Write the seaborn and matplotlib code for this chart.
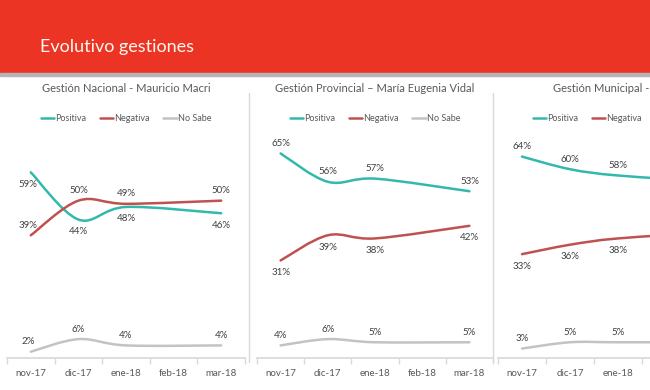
import numpy as np
import pandas as pd
import matplotlib
matplotlib.use("Agg")
import matplotlib.pyplot as plt
import seaborn as sns
from matplotlib.path import Path
from matplotlib.patches import PathPatch, Rectangle
from matplotlib.lines import Line2D

# categorias del eje (feb-18 sin medicion)
meses = ["nov-17", "dic-17", "ene-18", "feb-18", "mar-18"]
pos_medidas = [0, 1, 2, 4]
series = ["Positiva", "Negativa", "No Sabe"]

titulos = ["Gestión Nacional - Mauricio Macri",
           "Gestión Provincial – María Eugenia Vidal",
           "Gestión Municipal - Intendente"]

nacional_pos = [59, 44, 48, 46]
nacional_neg = [39, 50, 49, 50]
nacional_ns = [2, 6, 4, 4]

provincial_pos = [65, 56, 57, 53]
provincial_neg = [31, 39, 38, 42]
provincial_ns = [4, 6, 5, 5]

municipal_pos = [64, 60, 58, 56]
municipal_neg = [33, 36, 38, 40]
municipal_ns = [3, 5, 5, 5]

paneles = [
    (nacional_pos, nacional_neg, nacional_ns),
    (provincial_pos, provincial_neg, provincial_ns),
    (municipal_pos, municipal_neg, municipal_ns),
]

colores = {"Positiva": "#33B9AC", "Negativa": "#BF5250", "No Sabe": "#C3C3C3"}
# etiqueta arriba (+1) o abajo (-1) de cada serie, por panel
lados = [(-1, 1, 1), (1, -1, 1), (1, -1, 1)]


def curva(xs, ys):
    # linea suavizada tipo Excel (bezier catmull-rom)
    pts = np.column_stack([xs, ys]).astype(float)
    ext = np.vstack([pts[0], pts, pts[-1]])
    verts = [pts[0]]
    codes = [Path.MOVETO]
    for i in range(len(pts) - 1):
        p0, p1, p2, p3 = ext[i], ext[i + 1], ext[i + 2], ext[i + 3]
        verts += [p1 + (p2 - p0) / 6, p2 - (p3 - p1) / 6, p2]
        codes += [Path.CURVE4] * 3
    return Path(verts, codes)


sns.set_theme(style="white")
plt.rcParams["font.family"] = ["Lato", "DejaVu Sans"]

W, H = 650, 390
fig = plt.figure(figsize=(6.5, 3.9), dpi=100)
fig.patch.set_facecolor("white")

# cabecera roja
fig.add_artist(Rectangle((0, 1 - 73 / H), 1, 73 / H, transform=fig.transFigure,
                         color="#EC3424", zorder=0))
fig.add_artist(Rectangle((0, 1 - 76 / H), 1, 3 / H, transform=fig.transFigure,
                         color="#B5B5B5", zorder=0))
fig.text(40 / W, 1 - 47 / H, "Evolutivo gestiones", color="#FFF8F0",
         fontsize=13, va="center", ha="left")

# separadores de paneles
for xp in [249, 493]:
    fig.add_artist(Line2D([xp / W, xp / W], [1 - 93 / H, 1 - 362 / H],
                          transform=fig.transFigure, color="#D9D9D9", lw=1))

izq = [7, 257, 498]
anchos = [238, 236, 240]

for k, (vals, titulo) in enumerate(zip(paneles, titulos)):
    ax = fig.add_axes([izq[k] / W, 32 / H, anchos[k] / W, 236 / H])
    df = pd.DataFrame({
        "pos": pos_medidas * 3,
        "valor": list(vals[0]) + list(vals[1]) + list(vals[2]),
        "serie": [s for s in series for _ in pos_medidas],
    })
    sns.lineplot(data=df, x="pos", y="valor", hue="serie", hue_order=series,
                 palette=colores, errorbar=None, linewidth=1.8, ax=ax)
    for line in list(ax.lines):
        xs, ys = line.get_data()
        if len(xs) == 0:
            continue
        ax.add_patch(PathPatch(curva(xs, ys), fill=False, edgecolor=line.get_color(),
                               lw=1.8, capstyle="round", joinstyle="round"))
        line.set_visible(False)

    ax.set_xlim(-0.5, 4.5)
    ax.set_ylim(0, 75)

    leg = ax.get_legend()
    handles = leg.legend_handles
    labels = [t.get_text() for t in leg.get_texts()]
    ax.legend(handles, labels, loc="center", bbox_to_anchor=(0.5, 1.015), ncol=3,
              frameon=False, fontsize=6.5, handlelength=1.5, handletextpad=0.1,
              columnspacing=1.5, labelcolor="#595959")

    for s, lado in zip(range(3), lados[k]):
        for j, (x, v) in enumerate(zip(pos_medidas, vals[s])):
            # solo las etiquetas que caen dentro de la imagen
            if ax.transData.transform((x, v))[0] + 12 > W:
                continue
            dx = -3 if (k == 0 and j == 0) else 0
            dy = 10 if lado > 0 else -12
            ax.annotate(f"{v}%", (x, v), xytext=(dx, dy), textcoords="offset pixels",
                        ha="center", va="center", fontsize=7, color="#404040")

    if k < 2:
        ax.text(0.5, 1.14, titulo, transform=ax.transAxes, ha="center", va="center",
                fontsize=8, color="#595959")
    else:
        # el tercer panel queda cortado por el borde derecho
        fig.text(553 / W, 1 - 89 / H, titulo, ha="left", va="center",
                 fontsize=8, color="#595959")

    ax.set_xticks(range(5))
    ax.set_xticklabels(meses)
    ax.set_xticks(np.arange(-0.5, 5, 1), minor=True)
    ax.set_yticks([])
    ax.set_xlabel("")
    ax.set_ylabel("")
    ax.tick_params(axis="x", which="major", length=0, pad=8, labelsize=7,
                   labelcolor="#595959")
    ax.tick_params(axis="x", which="minor", length=4, color="#D9D9D9",
                   direction="out", bottom=True)
    for sp in ["left", "right", "top"]:
        ax.spines[sp].set_visible(False)
    ax.spines["bottom"].set_color("#D9D9D9")
    ax.set_facecolor("none")

fig.savefig("out.png", dpi=100)
